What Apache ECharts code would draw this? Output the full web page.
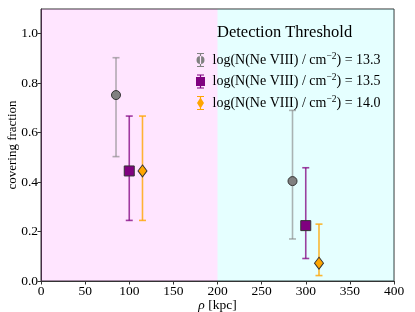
<!DOCTYPE html>
<html>
<head>
<meta charset="utf-8">
<script src="https://cdn.jsdelivr.net/npm/echarts@6/dist/echarts.min.js"></script>
<style>html,body{margin:0;padding:0;background:#fff}#c{width:415px;height:312px}</style>
</head>
<body>
<div id="c"></div>
<script>
// Data
const rho_13_3 = [85, 285];
const frac_13_3 = [0.752, 0.404];
const lo_13_3 = [0.503, 0.170];
const hi_13_3 = [0.903, 0.690];

const rho_13_5 = [100, 300];
const frac_13_5 = [0.445, 0.224];
const lo_13_5 = [0.245, 0.091];
const hi_13_5 = [0.667, 0.458];

const rho_14_0 = [115, 315];
const frac_14_0 = [0.445, 0.072];
const lo_14_0 = [0.245, 0.022];
const hi_14_0 = [0.667, 0.230];

const names = ['13.3', '13.5', '14.0'];

const FONT = 'Liberation Serif';

function pts(x, y) { return x.map((v, i) => [v, y[i]]); }
function errs(x, lo, hi) { return x.map((v, i) => [v, lo[i], hi[i]]); }

function errSeries(data, color) {
  return {
    type: 'custom',
    data: data,
    z: 2,
    silent: true,
    renderItem: function (params, api) {
      const x = api.value(0);
      const p1 = api.coord([x, api.value(1)]);
      const p2 = api.coord([x, api.value(2)]);
      const w = 3.5;
      const st = { stroke: color, lineWidth: 1.6 };
      return {
        type: 'group',
        children: [
          { type: 'line', shape: { x1: p1[0], y1: p1[1], x2: p2[0], y2: p2[1] }, style: st },
          { type: 'line', shape: { x1: p1[0] - w, y1: p1[1], x2: p1[0] + w, y2: p1[1] }, style: st },
          { type: 'line', shape: { x1: p2[0] - w, y1: p2[1], x2: p2[0] + w, y2: p2[1] }, style: st }
        ]
      };
    }
  };
}

const bar = 'M1.5 0 H8.5 V1 H1.5 Z M1.5 13 H8.5 V14 H1.5 Z M4.4 0 H5.6 V14 H4.4 Z ';
const iconCircle = 'path://' + bar + 'M1 7 A4 4 0 1 0 9 7 A4 4 0 1 0 1 7 Z';
const iconSquare = 'path://' + bar + 'M0.5 2.5 H9.5 V11.5 H0.5 Z';
const iconDiamond = 'path://' + bar + 'M5 1.5 L8.5 7 L5 12.5 L1.5 7 Z';

const labelOf = n => 'log(N(Ne VIII) / cm{sup|\u22122}) = ' + n;

const chart = echarts.init(document.getElementById('c'), null, { renderer: 'canvas' });
chart.setOption({
  animation: false,
  backgroundColor: '#ffffff',
  grid: { left: 41, right: 21, top: 9, bottom: 31, outerBoundsMode: 'none', containLabel: false, show: true, borderColor: '#333', borderWidth: 1, backgroundColor: 'transparent' },
  title: {
    text: 'Detection Threshold', left: 212, top: 19,
    textStyle: { fontFamily: FONT, fontSize: 16.5, fontWeight: 'normal', color: '#000' }
  },
  legend: {
    orient: 'vertical', left: 191, top: 46, itemWidth: 10, itemHeight: 14, itemGap: 5.5,
    itemStyle: { borderWidth: 0 },
    data: [
      { name: names[0], icon: iconCircle, itemStyle: { color: '#808080', borderWidth: 0 } },
      { name: names[1], icon: iconSquare, itemStyle: { color: '#800080', borderWidth: 0 } },
      { name: names[2], icon: iconDiamond, itemStyle: { color: '#FFA500', borderWidth: 0 } }
    ],
    formatter: labelOf,
    textStyle: {
      fontFamily: FONT, fontSize: 14, color: '#000', padding: [0, 0, 0, 2],
      rich: { sup: { fontFamily: FONT, fontSize: 9.5, color: '#000', padding: [0, 0, 8, 0] } }
    }
  },
  xAxis: {
    type: 'value', min: 0, max: 400, interval: 50,
    name: '{i|\u03C1} [kpc]', nameLocation: 'middle', nameGap: 17, nameMoveOverlap: false,
    nameTextStyle: { fontFamily: FONT, fontSize: 13.5, color: '#000', rich: { i: { fontFamily: FONT, fontStyle: 'italic', fontSize: 13.5, color: '#000' } } },
    axisLine: { show: true, onZero: false, lineStyle: { color: '#333' } },
    axisTick: { show: true, length: 3.5, lineStyle: { color: '#333' } },
    axisLabel: { fontFamily: FONT, fontSize: 13.5, color: '#000', margin: 3 },
    splitLine: { show: false }
  },
  yAxis: {
    type: 'value', min: 0, max: 1.1, interval: 0.2,
    name: 'covering fraction', nameLocation: 'middle', nameGap: 22, nameMoveOverlap: false,
    nameTextStyle: { fontFamily: FONT, fontSize: 13, color: '#000' },
    axisLine: { show: true, lineStyle: { color: '#333' } },
    axisTick: { show: true, length: 3.5, lineStyle: { color: '#333' } },
    axisLabel: { fontFamily: FONT, fontSize: 13.5, color: '#000', margin: 3, showMaxLabel: false, formatter: v => v.toFixed(1) },
    splitLine: { show: false }
  },
  series: [
    {
      type: 'scatter', name: '__bg', data: [], silent: true,
      markArea: {
        silent: true,
        data: [
          [{ xAxis: 0, itemStyle: { color: 'rgba(255,0,255,0.1)' } }, { xAxis: 200 }],
          [{ xAxis: 200, itemStyle: { color: 'rgba(0,255,255,0.1)' } }, { xAxis: 400 }]
        ]
      }
    },
    errSeries(errs(rho_13_3, lo_13_3, hi_13_3), 'rgba(128,128,128,0.6)'),
    errSeries(errs(rho_13_5, lo_13_5, hi_13_5), 'rgba(128,0,128,0.75)'),
    errSeries(errs(rho_14_0, lo_14_0, hi_14_0), 'rgba(255,165,0,0.8)'),
    {
      type: 'scatter', name: names[0], data: pts(rho_13_3, frac_13_3), symbol: 'circle', symbolSize: 9, z: 5,
      itemStyle: { color: '#808080', borderColor: '#333', borderWidth: 1, opacity: 1 }
    },
    {
      type: 'scatter', name: names[1], data: pts(rho_13_5, frac_13_5), symbol: 'rect', symbolSize: 10, z: 5,
      itemStyle: { color: '#800080', borderColor: '#333', borderWidth: 1, opacity: 1 }
    },
    {
      type: 'scatter', name: names[2], data: pts(rho_14_0, frac_14_0), symbol: 'diamond', symbolSize: [9, 12], z: 5,
      itemStyle: { color: '#FFA500', borderColor: '#333', borderWidth: 1, opacity: 1 }
    }
  ]
});
</script>
</body>
</html>
